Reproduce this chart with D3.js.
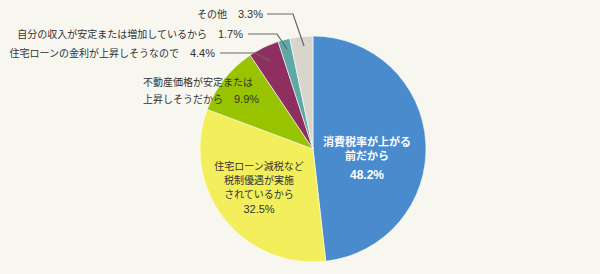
<!DOCTYPE html>
<html>
<head>
<meta charset="utf-8">
<script src="https://d3js.org/d3.v7.min.js"></script>
<style>
  body { margin: 0; background: #f7f6ef; }
  svg { display: block; }
  text { font-family: "Noto Sans CJK JP", sans-serif; font-size: 10px; fill: #333; }
  .pct { font-family: "Liberation Sans", Arial, sans-serif; font-size: 11px; }
  .inside { fill: #fff; font-weight: bold; font-size: 11px; }
  .inside .pct { font-size: 12px; }
</style>
</head>
<body>
<script>
var categories = ["消費税率が上がる前だから", "住宅ローン減税など税制優遇が実施されているから",
  "不動産価格が安定または上昇しそうだから", "住宅ローンの金利が上昇しそうなので",
  "自分の収入が安定または増加しているから", "その他"];
var values = [48.2, 32.5, 9.9, 4.4, 1.7, 3.3];
var colors = ["#4a8bce", "#f2ee5c", "#98c300", "#8e2f5f", "#5ea9a6", "#d7d5cc"];

var width = 600, height = 274;
var cx = 313, cy = 149, r = 113;

var svg = d3.select("body").append("svg")
    .attr("width", width).attr("height", height);

var g = svg.append("g").attr("transform", "translate(" + cx + "," + cy + ")");

var pie = d3.pie().sort(null).value(function(d) { return d; });
var arc = d3.arc().innerRadius(0).outerRadius(r);
var arcs = pie(values);

g.selectAll("path")
  .data(arcs)
  .enter().append("path")
  .attr("d", arc)
  .attr("fill", function(d, i) { return colors[i]; })
  .attr("stroke", "#fff")
  .attr("stroke-width", 0.6);

// inside labels
var inside = [
  { i: 0, lines: ["消費税率が上がる", "前だから"], dy: [0, 14], pct: 33, x: 54, y: -3, cls: "inside" },
  { i: 1, lines: ["住宅ローン減税など", "税制優遇が実施", "されているから"], dy: [0, 14, 28], pct: 43, x: -54, y: 21, cls: "" }
];
inside.forEach(function(o) {
  var t = g.append("text").attr("text-anchor", "middle").attr("class", o.cls);
  o.lines.forEach(function(l, k) {
    t.append("tspan").attr("x", o.x).attr("y", o.y + o.dy[k]).text(l);
  });
  t.append("tspan").attr("class", "pct").attr("x", o.x).attr("y", o.y + o.pct).text(values[o.i] + "%");
});

// outside labels
svg.append("text").attr("x", 143).attr("y", 86).text("不動産価格が安定または");
var t9 = svg.append("text").attr("x", 143).attr("y", 103);
t9.append("tspan").text("上昇しそうだから");
t9.append("tspan").attr("class", "pct").attr("dx", 11).text(values[2] + "%");

var callouts = [
  { i: 3, tx: 215, ty: 57, lx1: 220, lx2: 255, ex: 270, ey: 61 },
  { i: 4, tx: 243, ty: 38, lx1: 248, lx2: 277, ex: 287, ey: 49 },
  { i: 5, tx: 263, ty: 18, lx1: 267, lx2: 293, ex: 304, ey: 46 }
];
var short = { 3: "住宅ローンの金利が上昇しそうなので", 4: "自分の収入が安定または増加しているから", 5: "その他" };
callouts.forEach(function(c) {
  var t = svg.append("text").attr("x", c.tx).attr("y", c.ty).attr("text-anchor", "end");
  t.append("tspan").text(short[c.i]);
  t.append("tspan").attr("class", "pct").attr("dx", 11).text(values[c.i] + "%");
  svg.append("polyline")
    .attr("points", [[c.lx1, c.ty - 4], [c.lx2, c.ty - 4], [c.ex, c.ey]].join(" "))
    .attr("fill", "none").attr("stroke", "#666").attr("stroke-width", 1.2);
});
</script>
</body>
</html>
